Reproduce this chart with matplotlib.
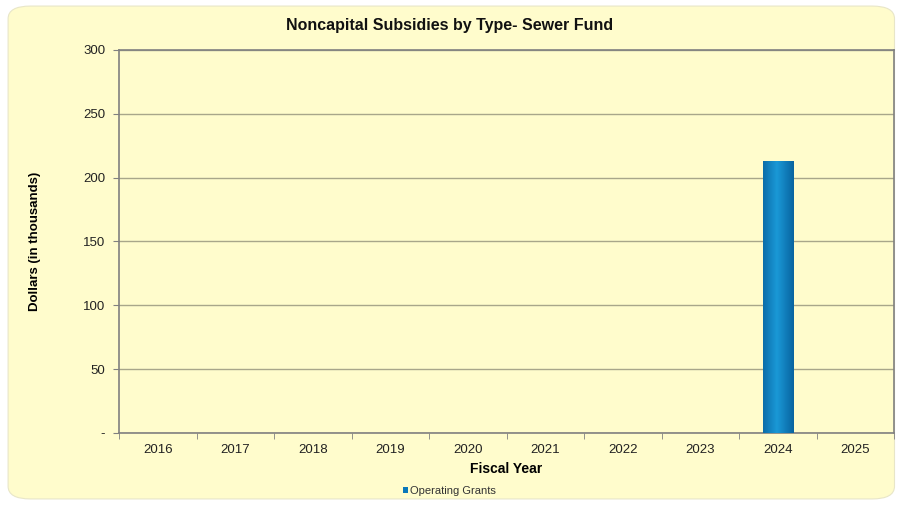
import numpy as np
import matplotlib.pyplot as plt
from matplotlib.patches import FancyBboxPatch

plt.rcParams['font.family'] = ['Liberation Sans', 'DejaVu Sans']

# Noncapital subsidies, sewer fund (dollars in thousands)
years = ["2016", "2017", "2018", "2019", "2020", "2021", "2022", "2023", "2024", "2025"]
operating_grants = [0, 0, 0, 0, 0, 0, 0, 0, 213, 0]
y_ticks = [0, 50, 100, 150, 200, 250, 300]
y_labels = ["-", "50", "100", "150", "200", "250", "300"]

bg = "#FFFCCC"
fig = plt.figure(figsize=(8.99, 5.05), dpi=100)
fig.patch.set_facecolor("white")

# rounded chart-area panel
panel = FancyBboxPatch((0.009, 0.012), 0.986, 0.976, boxstyle="round,pad=0,rounding_size=0.025",
                       transform=fig.transFigure, facecolor=bg, edgecolor="#E8E6C8", linewidth=0.8,
                       zorder=-1)
fig.patches.append(panel)

ax = fig.add_axes([119 / 899, 1 - 433 / 505, (894 - 119) / 899, (433 - 50) / 505])
ax.set_facecolor(bg)

x = np.arange(len(years))
bars = ax.bar(x, operating_grants, width=0.39, color="#0A78BA", zorder=3, label="Operating Grants")

# horizontal shading on the bar to give it a cylinder look
shade = plt.matplotlib.colors.LinearSegmentedColormap.from_list("bl", ["#0864A0", "#1A98D6"])
for b in bars:
    h = b.get_height()
    if h <= 0:
        continue
    grad = np.linspace(0, 1, 64)
    grad = 1 - np.abs(grad - 0.45) * 1.4
    img = np.tile(grad, (2, 1))
    ax.imshow(img, extent=(b.get_x(), b.get_x() + b.get_width(), 0, h), aspect="auto",
              cmap=shade, zorder=4)

ax.set_xlim(-0.5, len(years) - 0.5)
ax.set_ylim(0, 300)
ax.set_yticks(y_ticks)
ax.set_yticklabels(y_labels)
ax.set_xticks(x)
ax.set_xticklabels(years)
ax.set_xticks(np.arange(-0.5, len(years), 1), minor=True)
ax.tick_params(axis="x", which="major", length=0, pad=8, labelsize=9.5, labelcolor="#222222")
ax.tick_params(axis="x", which="minor", length=4, color="#808080", direction="out")
ax.tick_params(axis="y", length=4, color="#808080", pad=6, labelsize=9.5, labelcolor="#222222")

ax.yaxis.grid(True, color="#A8A68A", linewidth=1.0, zorder=0)
ax.set_axisbelow(True)
for side in ["left", "bottom", "right", "top"]:
    ax.spines[side].set_color("#808080")
    ax.spines[side].set_linewidth(1.2)

ax.set_xlabel("Fiscal Year", fontsize=10, fontweight="bold", labelpad=4)
ax.set_ylabel("Dollars (in thousands)", fontsize=9.5, fontweight="bold", labelpad=30)
fig.text(0.5, 0.950, "Noncapital Subsidies by Type- Sewer Fund", ha="center", va="center",
         fontsize=11.5, fontweight="bold", color="#111111")

fig.legend(handles=[bars], labels=["Operating Grants"], loc="center", bbox_to_anchor=(0.5, 0.028),
           frameon=False, fontsize=8, handlelength=0.5, handleheight=0.5, handletextpad=0.2,
           labelcolor="#333333")

fig.savefig("out.png", dpi=100, facecolor=fig.get_facecolor())
